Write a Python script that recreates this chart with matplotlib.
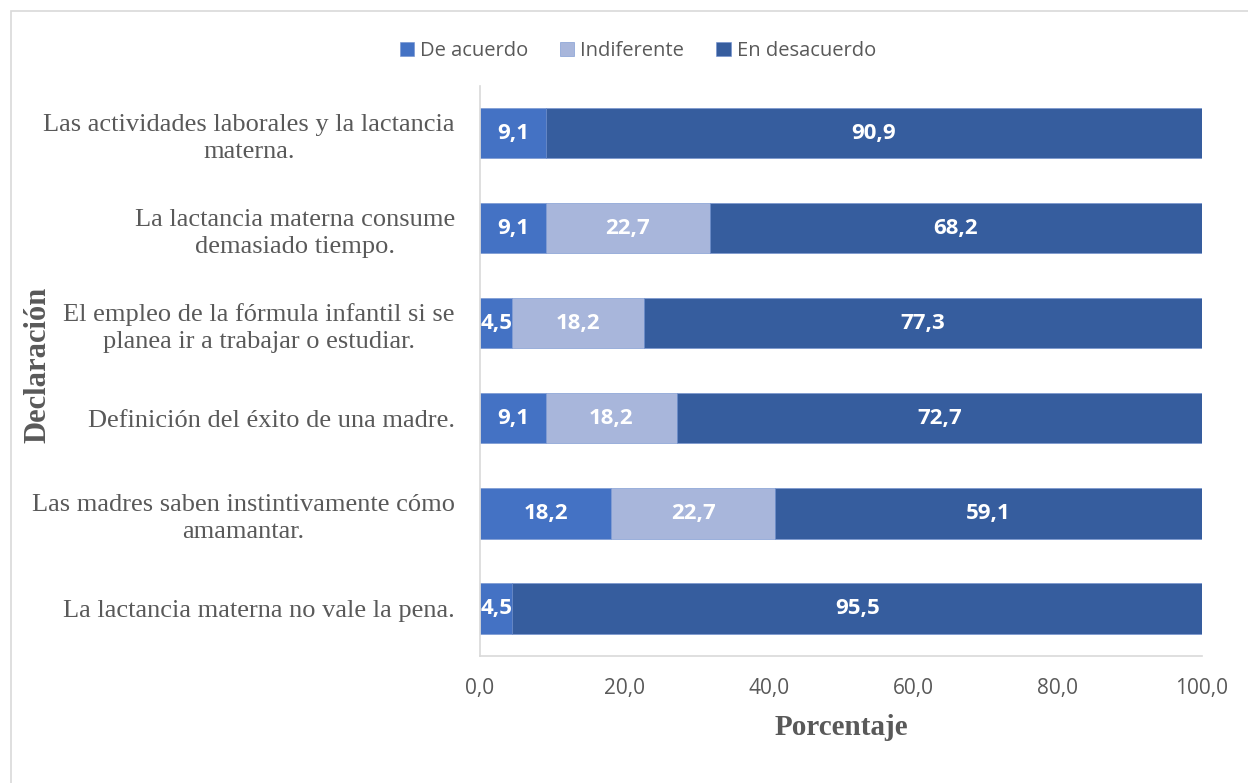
import matplotlib.pyplot as plt
import numpy as np
from matplotlib.patches import Rectangle

# Datos de la encuesta (%)
declaraciones = [
    'Las actividades laborales y la lactancia\nmaterna.',
    'La lactancia materna consume\ndemasiado tiempo.',
    'El empleo de la fórmula infantil si se\nplanea ir a trabajar o estudiar.',
    'Definición del éxito de una madre.',
    'Las madres saben instintivamente cómo\namamantar.',
    'La lactancia materna no vale la pena.',
]
de_acuerdo = [9.1, 9.1, 4.5, 9.1, 18.2, 4.5]
indiferente = [0.0, 22.7, 18.2, 18.2, 22.7, 0.0]
en_desacuerdo = [90.9, 68.2, 77.3, 72.7, 59.1, 95.5]
ticks_x = [0, 20, 40, 60, 80, 100]

series = [('De acuerdo', de_acuerdo, '#4472C4'),
          ('Indiferente', indiferente, '#A8B6DB'),
          ('En desacuerdo', en_desacuerdo, '#365D9E')]

fig = plt.figure(figsize=(12.48, 7.83), dpi=100)
ax = fig.add_axes([0.3846, 0.1622, 0.5785, 0.7286])

# Marco exterior del gráfico
fig.patches.append(Rectangle((0.009, -0.1), 1.2, 1.086, transform=fig.transFigure,
                             fill=False, edgecolor='#D9D9D9', linewidth=1.2))

y = np.arange(len(declaraciones))
izq = np.zeros(len(declaraciones))
for nombre, valores, color in series:
    valores = np.array(valores)
    barras = ax.barh(y, valores, left=izq, height=0.53, color=color,
                     edgecolor='#6F8FCF', linewidth=0.4, label=nombre)
    for b, v in zip(barras, valores):
        if v > 0:
            ax.text(b.get_x() + b.get_width() / 2, b.get_y() + b.get_height() / 2,
                    f'{v:.1f}'.replace('.', ','), ha='center', va='center',
                    color='white', fontsize=16, fontweight='bold', family='Open Sans')
    izq += valores

ax.set_ylim(len(declaraciones) - 0.5, -0.5)
ax.set_xlim(0, 100)
ax.set_yticks(y)
ax.set_yticklabels(declaraciones, family='Liberation Serif', fontsize=19,
                   color='#595959', multialignment='center', linespacing=1.3)
ax.set_xticks(ticks_x)
ax.set_xticklabels([f'{t:.1f}'.replace('.', ',') for t in ticks_x],
                   family='Open Sans', fontsize=15, color='#595959')
ax.tick_params(axis='both', length=0)
ax.tick_params(axis='y', pad=18)
ax.tick_params(axis='x', pad=16)

for s in ['top', 'right']:
    ax.spines[s].set_visible(False)
for s in ['left', 'bottom']:
    ax.spines[s].set_color('#D9D9D9')
    ax.spines[s].set_linewidth(1.2)

fig.text(0.674, 0.071, 'Porcentaje', ha='center', va='center', family='Liberation Serif',
         fontsize=21, fontweight='bold', color='#595959')
fig.text(0.030, 0.534, 'Declaración', ha='center', va='center', rotation=90,
         family='Liberation Serif', fontsize=22, fontweight='bold', color='#595959')

leg = fig.legend(loc='center', bbox_to_anchor=(0.511, 0.935), ncol=3, frameon=False,
                 handlelength=0.7, handleheight=0.7, handletextpad=0.3, columnspacing=1.6,
                 prop={'family': 'Open Sans', 'size': 14.5})
for t in leg.get_texts():
    t.set_color('#595959')

fig.savefig('out.png', dpi=100, facecolor='white')
